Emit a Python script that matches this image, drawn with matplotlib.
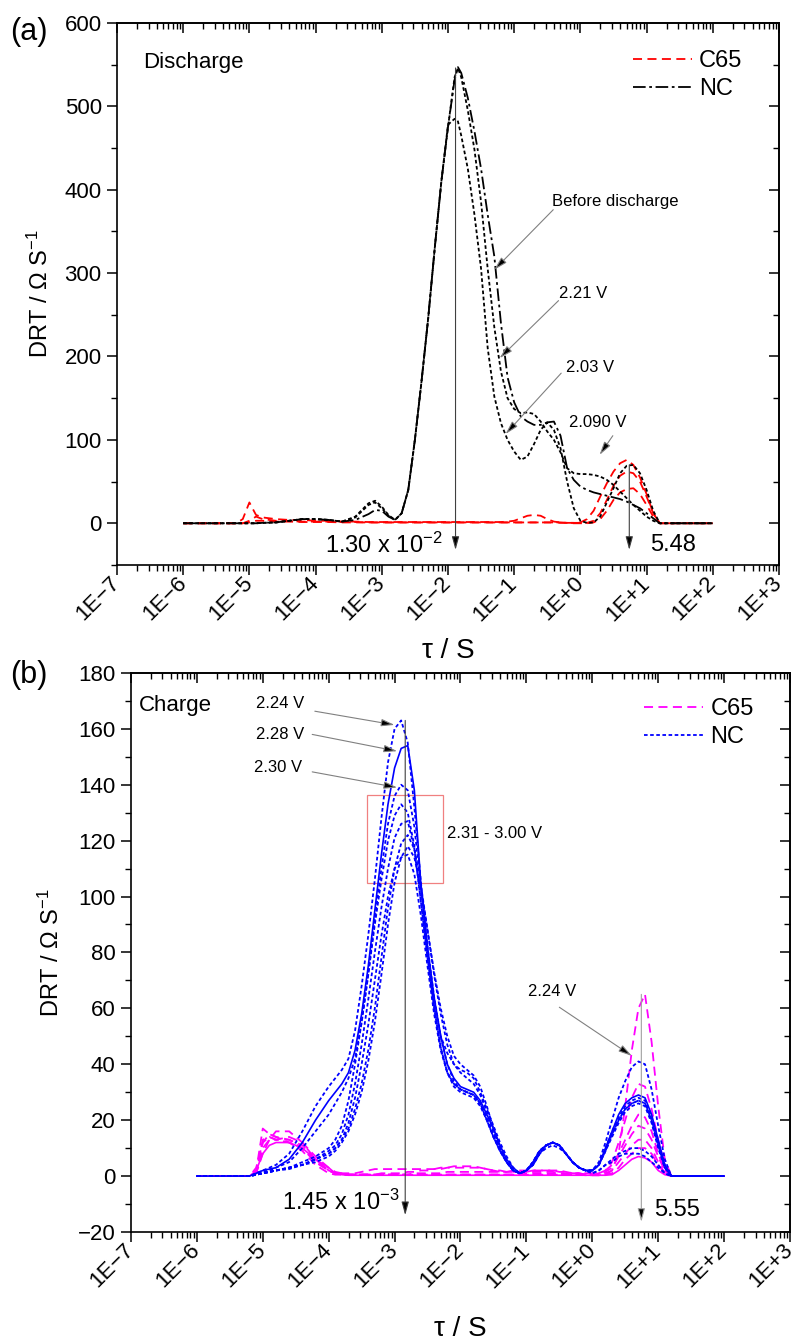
import numpy as np
import matplotlib
matplotlib.use('Agg')
import matplotlib.pyplot as plt
from matplotlib.ticker import FixedLocator, MultipleLocator, LogLocator
from matplotlib.patches import Rectangle

plt.rcParams['font.family'] = ['Liberation Sans', 'DejaVu Sans']
plt.rcParams['mathtext.fontset'] = 'custom'
plt.rcParams['mathtext.rm'] = 'Liberation Sans'
plt.rcParams['mathtext.it'] = 'Liberation Sans:italic'

# x ticks (both panels)
tick_exp = [-7, -6, -5, -4, -3, -2, -1, 0, 1, 2, 3]
tick_labels = ['1E\u22127', '1E\u22126', '1E\u22125', '1E\u22124', '1E\u22123', '1E\u22122',
               '1E\u22121', '1E+0', '1E+1', '1E+2', '1E+3']

# ---------------- (a) discharge : log10(tau) grid and DRT values ----------------
log_tau_a = [-6.0, -5.2, -5.1, -5.0, -4.9, -4.8, -4.6, -4.4, -4.2, -4.0,
             -3.8, -3.6, -3.4, -3.2, -3.1, -3.0,
             -2.9, -2.8, -2.7, -2.6, -2.5, -2.4, -2.3, -2.2, -2.1, -2.0,
             -1.9, -1.85, -1.8, -1.7, -1.6, -1.5, -1.4, -1.3, -1.2, -1.1, -1.0,
             -0.9, -0.8, -0.7, -0.6, -0.5, -0.4, -0.3, -0.2, -0.1, 0.0,
             0.1, 0.2, 0.3, 0.4, 0.5, 0.6, 0.7, 0.8, 0.9, 1.0,
             1.1, 1.2, 2.0]

nc_before = [0, 0, 0, 0, 0, 0.5, 1, 3, 5, 5,
             4, 2, 4, 11, 16, 15,
             8, 4, 12, 40, 100, 170, 245, 330, 410, 475,
             532, 547, 540, 510, 470, 425, 370, 320, 240, 175, 145,
             128, 122, 118, 118, 121, 122, 105, 66, 52, 44,
             40, 37, 35, 33, 31, 29, 26, 22, 18, 12,
             6, 0, 0]
nc_221 = [0, 0, 0, 0, 0, 0.5, 1, 3, 5, 5,
          4, 2, 8, 24, 27, 20,
          10, 4, 12, 40, 100, 170, 245, 330, 410, 475,
          535, 546, 535, 495, 448, 385, 305, 235, 182, 150, 137,
          132, 133, 131, 122, 110, 100, 85, 66, 60, 59,
          59, 58, 56, 52, 46, 38, 30, 22, 15, 8,
          3, 0, 0]
nc_203 = [0, 0, 0, 0, 0, 0.5, 1, 3, 5, 5,
          4, 2, 7, 22, 25, 18,
          9, 4, 12, 40, 100, 170, 245, 330, 410, 478,
          485, 482, 465, 425, 370, 305, 210, 152, 120, 100, 86,
          76, 80, 95, 112, 121, 112, 90, 50, 18, 3,
          0.5, 1, 8, 25, 42, 60, 69, 70, 60, 40,
          15, 0, 0]
c65_a1 = [0, 0, 5, 25, 10, 7, 5, 4, 4, 3,
          3, 2, 2, 1.5, 1.5, 1.5,
          1.5, 1.5, 1.5, 1.5, 1.5, 1.5, 1.5, 1.5, 1.5, 1.5,
          1.5, 1.5, 1.5, 1.5, 1.5, 1.5, 1.5, 1.5, 1.5, 2, 3,
          6, 9, 10, 9, 5, 2, 1, 0.5, 0.5, 1,
          5, 15, 32, 48, 62, 72, 76, 70, 55, 35,
          12, 0, 0]
c65_a2 = [0, 0, 0, 3, 8, 5, 3, 2.5, 2, 2,
          2, 1.5, 1.5, 1, 1, 1,
          1, 1, 1, 1, 1, 1, 1, 1, 1, 1,
          1, 1, 1, 1, 1, 1, 1, 1, 1, 1, 1,
          1, 1, 1, 1, 1, 1, 1, 0.5, 0.5, 0.5,
          0.5, 3, 12, 28, 45, 57, 62, 60, 50, 32,
          12, 0, 0]
c65_a3 = [0, 0, 0, 1, 3, 3, 2, 2, 1.5, 1.5,
          1.5, 1, 1, 1, 1, 1,
          1, 1, 1, 1, 1, 1, 1, 1, 1, 1,
          1, 1, 1, 1, 1, 1, 1, 1, 1, 1, 1,
          1, 1, 1, 1, 1, 1, 0.5, 0.5, 0, 0,
          0, 1, 5, 15, 28, 37, 41, 42, 35, 22,
          8, 0, 0]

# ---------------- (b) charge : log10(tau) grid and DRT values ----------------
log_tau_b = [-6.0, -5.2, -5.1, -5.0, -4.9, -4.8, -4.6, -4.4, -4.2,
             -4.0, -3.9, -3.8, -3.7, -3.6, -3.5, -3.4, -3.3, -3.2, -3.1, -3.0,
             -2.9, -2.8, -2.7, -2.6, -2.5, -2.4, -2.3, -2.2, -2.1, -2.0,
             -1.9, -1.8, -1.7, -1.6, -1.5, -1.4, -1.3, -1.2, -1.1, -1.0,
             -0.9, -0.8, -0.7, -0.6, -0.5, -0.4, -0.3, -0.2, -0.1, 0.0,
             0.1, 0.2, 0.3, 0.4, 0.5, 0.6, 0.7, 0.8, 0.9, 1.0,
             1.1, 1.2, 2.0]

nc_224 = [0, 0, 1, 2, 3, 4, 8, 16, 25,
          32, 35, 38, 42, 52, 68, 86, 106, 128, 148, 160,
          163, 155, 132, 105, 80, 62, 50, 44, 40, 38,
          37, 35, 30, 24, 18, 12, 7, 3, 1, 2,
          5, 9, 11, 12, 11, 8, 5, 3, 2, 2,
          5, 12, 20, 28, 34, 39, 41, 40, 31, 18,
          6, 0, 0]
nc_228 = [0, 0, 1, 2, 2.5, 3, 6, 12, 20,
          27, 30, 33, 37, 45, 58, 75, 95, 115, 133, 146,
          153, 154, 138, 104, 82, 64, 50, 40, 35, 32,
          31, 30, 27, 22, 17, 11, 6, 3, 1, 2,
          5, 9, 11, 12, 11, 8, 5, 3, 2, 2,
          4, 10, 16, 22, 26, 28, 29, 28, 22, 13,
          4, 0, 0]
nc_230 = [0, 0, 1, 1.5, 2, 3, 5, 10, 16,
          22, 26, 30, 35, 42, 55, 72, 92, 110, 126, 136,
          140, 138, 125, 103, 82, 64, 50, 40, 34, 31,
          30, 29, 26, 21, 15, 10, 5, 2, 1, 2,
          5, 9, 11, 12, 11, 8, 5, 3, 2, 2,
          4, 10, 16, 21, 25, 27, 28, 27, 21, 12,
          4, 0, 0]
nc_231 = [0, 0, 0.5, 1, 1.5, 2, 3, 5, 7,
          10, 13, 18, 27, 40, 55, 72, 90, 106, 120, 129,
          133, 130, 118, 98, 78, 60, 46, 37, 32, 30,
          29, 28, 25, 20, 14, 9, 5, 2, 1, 2,
          5, 9, 11, 12, 11, 8, 5, 3, 2, 2,
          4, 9, 15, 20, 24, 26, 27, 26, 20, 11,
          3, 0, 0]
nc_240 = [0, 0, 0.5, 1, 1.5, 2, 3, 4, 6,
          9, 11, 15, 22, 33, 47, 63, 80, 96, 110, 121,
          126, 127, 117, 98, 78, 60, 46, 37, 33, 31,
          30, 29, 26, 20, 14, 9, 5, 2, 1, 2,
          4, 8, 11, 12, 11, 8, 5, 3, 2, 2,
          4, 9, 15, 20, 24, 26, 27, 26, 20, 11,
          3, 0, 0]
nc_260 = [0, 0, 0.5, 1, 1.5, 2, 3, 4, 6,
          8, 10, 13, 17, 24, 33, 45, 60, 78, 96, 110,
          119, 122, 117, 104, 88, 72, 58, 47, 40, 37,
          35, 33, 29, 23, 16, 10, 5, 2, 1, 2,
          4, 8, 11, 12, 11, 8, 5, 3, 2, 1,
          2, 4, 6, 8, 9, 10, 10, 9, 7, 4,
          1, 0, 0]
nc_280 = [0, 0, 0.5, 1, 1.5, 2, 2.5, 4, 5,
          7, 9, 12, 16, 22, 30, 41, 55, 72, 90, 105,
          114, 118, 114, 103, 88, 73, 60, 50, 43, 40,
          38, 36, 32, 25, 17, 10, 5, 2, 1, 2,
          4, 8, 10, 11, 10, 8, 5, 3, 2, 1,
          2, 4, 5, 7, 8, 8, 8, 7, 5, 3,
          1, 0, 0]
nc_300 = [0, 0, 0.5, 1, 1.5, 2, 3, 4, 6,
          8, 10, 13, 19, 28, 40, 54, 70, 86, 100, 110,
          114, 115, 108, 93, 75, 58, 45, 37, 33, 31,
          30, 29, 26, 20, 14, 9, 5, 2, 1, 2,
          4, 8, 11, 12, 11, 8, 5, 3, 2, 2,
          4, 9, 14, 19, 23, 25, 26, 25, 19, 10,
          3, 0, 0]

c65_b1 = [0, 0, 2, 17, 15, 14, 12, 9, 4,
          1, 0.5, 0.5, 0.5, 0.5, 0.5, 0.5, 0.5, 0.5, 0.5, 0.5,
          0.5, 0.5, 0.5, 0.5, 0.5, 0.5, 0.5, 0.5, 0.5, 0.5,
          0.5, 0.5, 0.5, 0.5, 0.5, 0.5, 0.5, 0.5, 0.5, 0.5,
          0.5, 0.5, 0.5, 0.5, 0.5, 0.5, 0.5, 0.5, 0.3, 0.3,
          0.3, 0.5, 2, 8, 25, 45, 60, 65, 48, 25,
          6, 0, 0]
c65_b2 = [0, 0, 1, 8, 13, 16, 16, 12, 6,
          2, 1, 1, 1, 1, 1.5, 2, 2.5, 2.5, 2.5, 2.5,
          2.5, 2.5, 2.5, 2.5, 2.5, 2.5, 2.5, 3, 3, 3,
          3, 3, 3, 2.5, 2, 2, 1.5, 1.5, 1.5, 1.5,
          2, 2, 2, 2, 1.5, 1.5, 1, 1, 1, 1,
          1, 2, 5, 12, 20, 28, 33, 32, 24, 13,
          4, 0, 0]
c65_b3 = [0, 0, 1, 10, 13, 13, 14, 12, 7,
          3, 1.5, 1, 0.5, 0.5, 0.5, 0.5, 0.5, 1, 1, 1,
          1, 1.5, 1.5, 2, 2, 2.5, 3, 3, 3.5, 3.5,
          3.5, 3.5, 3, 2.5, 2, 1.5, 1.5, 2, 2, 2,
          2, 2, 2, 2, 2, 1.5, 1, 1, 0.5, 0.5,
          1, 2, 4, 8, 13, 18, 22, 21, 16, 8,
          2, 0, 0]
c65_b4 = [0, 0, 1, 12, 14, 13, 13, 11, 6,
          2, 1, 0.5, 0.5, 0.5, 0.5, 0.5, 0.5, 0.5, 0.5, 0.5,
          0.5, 0.5, 1, 1, 1, 1, 1, 1.5, 1.5, 1.5,
          1.5, 1.5, 1.5, 1.5, 1.5, 1.5, 1.5, 1.5, 1.5, 1.5,
          1.5, 1.5, 1.5, 1.5, 1, 1, 1, 1, 0.5, 0.5,
          0.5, 1.5, 3, 7, 11, 15, 18, 17, 13, 7,
          2, 0, 0]
c65_b5 = [0, 0, 1, 13, 14, 13, 12, 10, 5,
          2, 1, 0.5, 0.5, 0.5, 0.5, 0.5, 0.5, 0.5, 0.5, 0.5,
          0.5, 0.5, 0.5, 0.5, 0.5, 0.5, 0.5, 0.5, 0.5, 0.5,
          0.5, 0.5, 0.5, 0.5, 0.5, 0.5, 0.5, 0.5, 1, 1,
          1, 1, 1, 1, 1, 0.5, 0.5, 0.5, 0.5, 0.5,
          0.5, 1, 2, 5, 8, 11, 13, 13, 10, 5,
          1, 0, 0]
c65_b6 = [0, 0, 3, 12, 15, 14, 13, 10, 5,
          2, 1, 0.5, 0.5, 0.5, 0.5, 0.5, 0.5, 0.5, 0.5, 0.5,
          0.5, 0.5, 0.5, 0.5, 0.5, 0.5, 0.5, 0.5, 0.5, 0.5,
          0.5, 0.5, 0.5, 0.5, 0.5, 0.5, 0.5, 0.5, 0.5, 0.5,
          0.5, 0.5, 0.5, 0.5, 0.5, 0.5, 0.5, 0.5, 0.3, 0.3,
          0.3, 0.5, 1, 3, 6, 8, 10, 10, 8, 4,
          1, 0, 0]
c65_b7 = [0, 0, 2, 8, 11, 12, 12, 10, 6,
          3, 1, 0.5, 0.3, 0.3, 0.3, 0.3, 0.3, 0.3, 0.3, 0.3,
          0.3, 0.3, 0.3, 0.3, 0.3, 0.3, 0.3, 0.3, 0.3, 0.3,
          0.3, 0.3, 0.3, 0.3, 0.3, 0.3, 0.3, 0.3, 0.3, 0.3,
          0.3, 0.3, 0.3, 0.3, 0.3, 0.3, 0.3, 0.3, 0.3, 0.3,
          0.3, 0.3, 0.5, 2, 4, 6, 7, 6.5, 5, 2,
          0.5, 0, 0]

DASH = (0, (5, 3))
DOT = (0, (2, 1.4))
DASHDOT = (0, (7, 2, 1.5, 2))


def tau(logs):
    return 10.0 ** np.asarray(logs)


def dress(ax, ylim, ymaj, ymin):
    ax.set_xscale('log')
    ax.set_xlim(1e-7, 1e3)
    ax.set_ylim(*ylim)
    ax.xaxis.set_major_locator(FixedLocator(tau(tick_exp)))
    ax.xaxis.set_minor_locator(LogLocator(base=10, subs=np.arange(2, 10), numticks=40))
    ax.set_xticklabels(tick_labels, rotation=45, ha='right', va='center',
                       rotation_mode='anchor')
    ax.yaxis.set_major_locator(MultipleLocator(ymaj))
    ax.yaxis.set_minor_locator(MultipleLocator(ymin))
    ax.tick_params(which='major', direction='out', length=7, width=1.1, labelsize=16, pad=4)
    ax.tick_params(which='minor', direction='out', length=4, width=1.0)
    for s in ax.spines.values():
        s.set_linewidth(1.2)
    top = ax.secondary_xaxis('top')
    top.xaxis.set_major_locator(FixedLocator(tau(tick_exp)))
    top.xaxis.set_minor_locator(LogLocator(base=10, subs=np.arange(2, 10), numticks=40))
    top.tick_params(which='major', direction='in', length=7, width=1.1, labeltop=False)
    top.tick_params(which='minor', direction='in', length=4, width=1.0)
    top.spines['top'].set_linewidth(1.2)
    right = ax.secondary_yaxis('right')
    right.yaxis.set_major_locator(MultipleLocator(ymaj))
    right.yaxis.set_minor_locator(MultipleLocator(ymin))
    right.tick_params(which='major', direction='in', length=7, width=1.1, labelright=False)
    right.tick_params(which='minor', direction='in', length=4, width=1.0)
    right.spines['right'].set_linewidth(1.2)


def pointer(ax, xy_from, xy_to, ec='#808080', lw=0.8):
    ax.annotate('', xy=(10 ** xy_to[0], xy_to[1]), xytext=(10 ** xy_from[0], xy_from[1]),
                arrowprops=dict(arrowstyle='-|>,head_length=0.8,head_width=0.22',
                                ec=ec, fc='black', lw=lw, shrinkA=0, shrinkB=0))


fig = plt.figure(figsize=(8.09, 13.41), dpi=100)

# ---------------- panel (a) ----------------
ax1 = fig.add_axes([0.1446, 0.5787, 0.8183, 0.4042])
ta = tau(log_tau_a)
for y in [c65_a1, c65_a2, c65_a3]:
    ax1.plot(ta, y, color='red', lw=1.3, ls=DASH)
ax1.plot(ta, nc_221, color='black', lw=1.3, ls=DOT)
ax1.plot(ta, nc_203, color='black', lw=1.3, ls=DOT)
ax1.plot(ta, nc_before, color='black', lw=1.3, ls=DASHDOT)
dress(ax1, (-50, 600), 100, 50)

h1 = [plt.Line2D([], [], color='red', lw=1.3, ls=DASH),
      plt.Line2D([], [], color='black', lw=1.3, ls=DASHDOT)]
ax1.legend(h1, ['C65', 'NC'], loc='upper right', bbox_to_anchor=(0.945, 0.95),
           frameon=False, fontsize=17, handlelength=2.5, handletextpad=0.3,
           labelspacing=0.25, borderpad=0, borderaxespad=0)

ax1.text(10 ** -6.61, 553, 'Discharge', fontsize=16, va='center', ha='left')
ax1.text(10 ** -0.43, 386, 'Before discharge', fontsize=12, va='center', ha='left')
ax1.text(10 ** -0.33, 276, '2.21 V', fontsize=12, va='center', ha='left')
ax1.text(10 ** -0.21, 187, '2.03 V', fontsize=12, va='center', ha='left')
ax1.text(10 ** -0.17, 121, '2.090 V', fontsize=12, va='center', ha='left')
pointer(ax1, (-0.41, 376), (-1.30, 304))
pointer(ax1, (-0.33, 267), (-1.22, 198))
pointer(ax1, (-0.29, 180), (-1.13, 107))
pointer(ax1, (0.49, 105), (0.29, 82))
pointer(ax1, (np.log10(1.30e-2), 546), (np.log10(1.30e-2), -32), ec='#404040')
pointer(ax1, (np.log10(5.48), 70), (np.log10(5.48), -32), ec='#404040')
ax1.text(10 ** -2.08, -26, '1.30 x 10$^{-2}$', fontsize=17, va='center', ha='right')
ax1.text(10 ** 1.05, -26, '5.48', fontsize=17, va='center', ha='left')

ax1.set_ylabel('DRT / \u03a9 S$^{-1}$', fontsize=17)
ax1.yaxis.set_label_coords(-0.097, 0.5)
ax1.set_xlabel('\u03c4 / S', fontsize=20)
ax1.xaxis.set_label_coords(0.5, -0.135)
fig.text(0.012, 1 - 32 / 1341, '(a)', fontsize=22, va='center', ha='left')

# ---------------- panel (b) ----------------
ax2 = fig.add_axes([0.1619, 0.0813, 0.8146, 0.4169])
tb = tau(log_tau_b)
for y in [c65_b2, c65_b3, c65_b4, c65_b5, c65_b6, c65_b1]:
    ax2.plot(tb, y, color='#ff00ff', lw=1.3, ls=DASH)
ax2.plot(tb, c65_b7, color='#ff00ff', lw=1.2, ls='-')
for y in [nc_300, nc_280, nc_260, nc_240, nc_231, nc_230, nc_224]:
    ax2.plot(tb, y, color='#0000ff', lw=1.3, ls=DOT)
ax2.plot(tb, nc_228, color='#0000ff', lw=1.2, ls='-')
dress(ax2, (-20, 180), 20, 10)

h2 = [plt.Line2D([], [], color='#ff00ff', lw=1.3, ls=DASH),
      plt.Line2D([], [], color='#0000ff', lw=1.3, ls=DOT)]
ax2.legend(h2, ['C65', 'NC'], loc='upper right', bbox_to_anchor=(0.945, 0.955),
           frameon=False, fontsize=17, handlelength=2.5, handletextpad=0.3,
           labelspacing=0.25, borderpad=0, borderaxespad=0)

ax2.text(10 ** -6.875, 168.4, 'Charge', fontsize=16, va='center', ha='left')
ax2.text(10 ** -5.11, 169, '2.24 V', fontsize=12, va='center', ha='left')
ax2.text(10 ** -5.11, 158, '2.28 V', fontsize=12, va='center', ha='left')
ax2.text(10 ** -5.14, 146, '2.30 V', fontsize=12, va='center', ha='left')
ax2.text(10 ** -2.20, 122.5, '2.31 - 3.00 V', fontsize=12, va='center', ha='left')
ax2.text(10 ** -0.97, 65.9, '2.24 V', fontsize=12, va='center', ha='left')
pointer(ax2, (-4.21, 166.3), (-3.0, 161.4))
pointer(ax2, (-4.25, 158), (-2.96, 152))
pointer(ax2, (-4.25, 144.6), (-2.96, 139))
pointer(ax2, (-0.50, 60.4), (0.60, 43))
box_log = (-3.416, -2.258)
box_val = (104.7, 136.2)
ax2.add_patch(Rectangle((10 ** box_log[0], box_val[0]), 10 ** box_log[1] - 10 ** box_log[0],
                        box_val[1] - box_val[0], fill=False, ec='#f08080', lw=0.9))
pointer(ax2, (np.log10(1.45e-3), 163), (np.log10(1.45e-3), -14), ec='#404040')
pointer(ax2, (np.log10(5.55), 65), (np.log10(5.55), -16.4), ec='#a0a0a0')
ax2.text(10 ** -2.923, -9.4, '1.45 x 10$^{-3}$', fontsize=17, va='center', ha='right')
ax2.text(10 ** 0.934, -12.2, '5.55', fontsize=17, va='center', ha='left')

ax2.set_ylabel('DRT / \u03a9 S$^{-1}$', fontsize=17)
ax2.yaxis.set_label_coords(-0.102, 0.5)
ax2.set_xlabel('\u03c4 / S', fontsize=20)
ax2.xaxis.set_label_coords(0.5, -0.15)
fig.text(0.012, 1 - 675 / 1341, '(b)', fontsize=22, va='center', ha='left')

fig.savefig('out.png', dpi=100)
